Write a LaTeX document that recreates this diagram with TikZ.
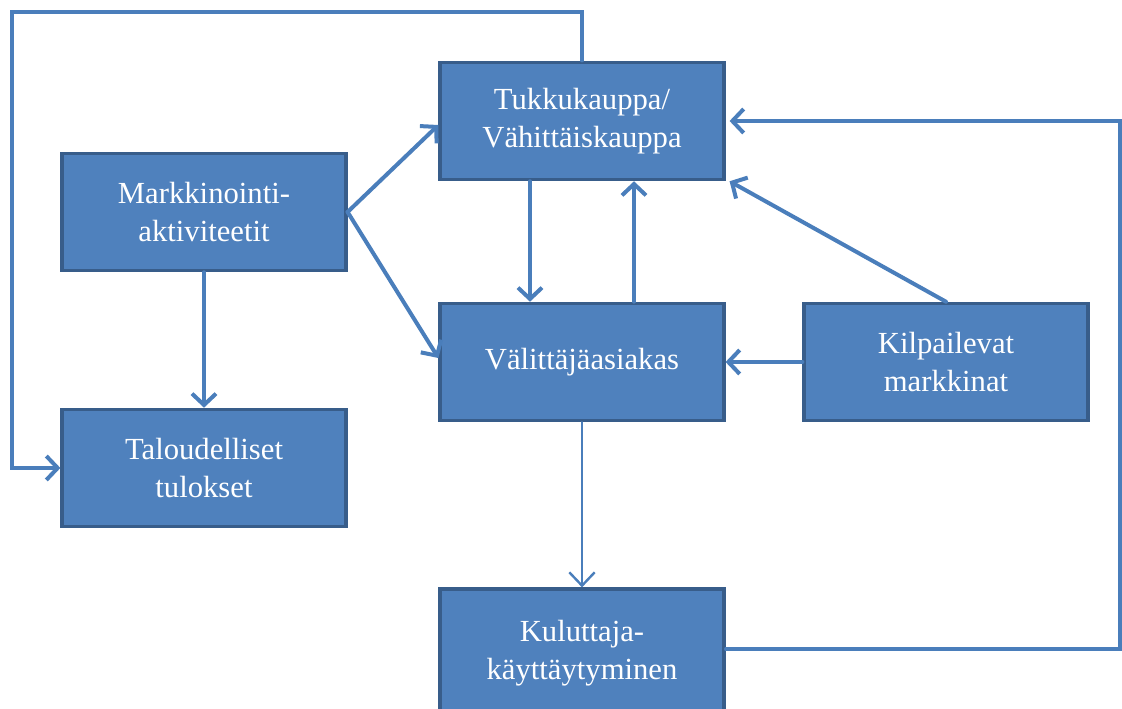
\documentclass[tikz,border=0pt]{standalone}
\usepackage{fontspec}
\setmainfont{Liberation Serif}
\usetikzlibrary{arrows.meta}
\definecolor{boxfill}{HTML}{4F81BD}
\definecolor{boxline}{HTML}{385D8A}
\definecolor{arrowcol}{HTML}{4A7EBB}
\tikzset{
  lohko/.style={draw=boxline, fill=boxfill, line width=2.4pt, minimum width=213pt,
    minimum height=88pt, align=center, text=white, font=\fontsize{23}{28.5}\selectfont},
  nuoli/.style={draw=arrowcol, line width=3pt, line cap=round,
    -{Straight Barb[length=8.5pt, width=18pt, line width=3pt]}},
  ohut/.style={nuoli, line width=1.6pt,
    -{Straight Barb[length=10pt, width=19pt, line width=1.8pt]}}
}
\begin{document}
\begin{tikzpicture}[x=0.75pt, y=-0.75pt]
  \useasboundingbox (0,0) rectangle (1122,709);
  \node[lohko] (markk) at (204,212) {Markkinointi-\\aktiviteetit};
  \node[lohko] (talous) at (204,468) {Taloudelliset\\tulokset};
  \node[lohko] (tukku) at (582,121) {Tukkukauppa/\\Vähittäiskauppa};
  \node[lohko] (valit) at (582,362) {Välittäjäasiakas};
  \node[lohko] (kilp) at (946,362) {Kilpailevat\\markkinat};
  \node[lohko, minimum height=96pt] (kulut) at (582,653) {Kuluttaja-\\käyttäytyminen};
  \coordinate (ylavasen) at (12,12);
  \coordinate (oikea) at (1120,650);
  % nuolet
  \draw[nuoli] (markk.east) -- ([yshift=-3pt]tukku.west);
  \draw[nuoli] (markk.east) -- ([yshift=3pt]valit.west);
  \draw[nuoli] (markk.south) -- (talous.north);
  \draw[nuoli] ([xshift=-39pt]tukku.south) -- ([xshift=-39pt]valit.north);
  \draw[nuoli] ([xshift=39pt]valit.north) -- ([xshift=39pt]tukku.south);
  \draw[nuoli] (kilp.north) -- ([xshift=3pt]tukku.south east);
  \draw[nuoli] (kilp.west) -- (valit.east);
  \draw[ohut] (valit.south) -- (kulut.north);
  % silmukat
  \draw[nuoli, line width=2.4pt] (tukku.north) |- (ylavasen) |- (talous.west);
  \draw[nuoli, line width=2.4pt] ([yshift=3pt]kulut.east) -- ([yshift=3pt]kulut.east -| oikea) |- ([xshift=3pt]tukku.east);
\end{tikzpicture}
\end{document}
